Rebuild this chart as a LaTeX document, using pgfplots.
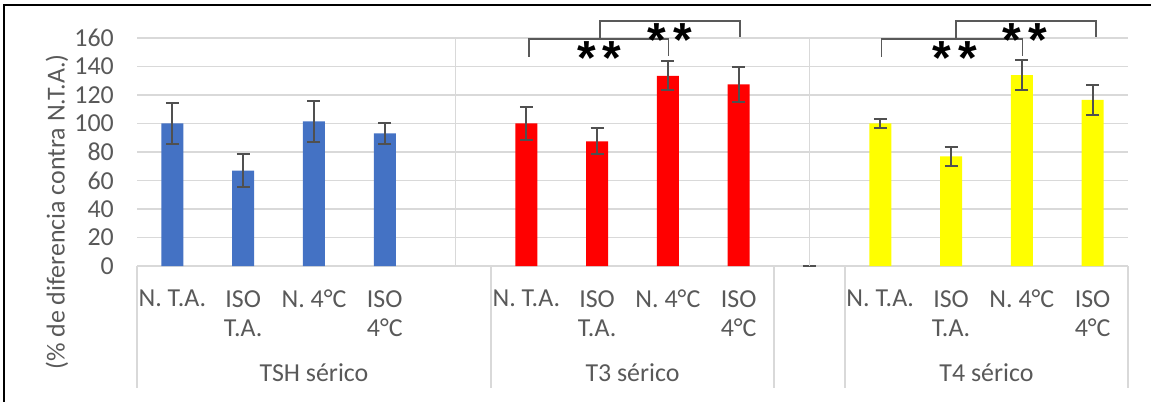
\documentclass[border=0pt]{standalone}
\usepackage{fontspec}
\setmainfont{Carlito}
\newfontfamily\starfont{Liberation Sans}
\usepackage{pgfplots}
\usepackage{pgfplotstable}
\pgfplotsset{compat=1.18}
\definecolor{gridgray}{HTML}{D9D9D9}
\definecolor{labgray}{HTML}{595959}
\definecolor{errgray}{HTML}{505050}
\definecolor{brgray}{HTML}{595959}
\definecolor{barblue}{HTML}{4472C4}
\definecolor{barred}{HTML}{FF0000}
\definecolor{baryellow}{HTML}{FFFF00}
\newcommand\lab{\fontsize{26}{29.3}\selectfont}
\newcommand\stars{\starfont\bfseries\fontsize{48}{48}\selectfont}

\pgfplotstableread{
x y e
0.5 100 14.5
1.5 67 11.5
2.5 101.5 14.5
3.5 93 7.6
}\tsh
\pgfplotstableread{
x y e
5.5 100 11.8
6.5 87.5 9
7.5 133.5 10.3
8.5 127.5 12.2
}\tthree
\pgfplotstableread{
x y e
10.5 100 3
11.5 77 6.6
12.5 134 10.5
13.5 116.5 10.4
}\tfour

\pgfplotsset{
  errb/.style={error bars/.cd, y dir=both, y explicit,
    error bar style={errgray, line width=2bp},
    error mark options={errgray, line width=2bp, rotate=90, mark size=6.5bp}},
  barst/.style={ybar, bar width=22bp, draw=none, fill=#1}
}

\begin{document}
\begin{tikzpicture}
\useasboundingbox (0bp,0bp) rectangle (1151bp,402bp);
\draw[line width=2.2bp] (4bp,0bp) -- (4bp,397bp) -- (1151bp,397bp);
\begin{axis}[at={(137bp,136bp)}, anchor=south west, scale only axis,
  width=991bp, height=228bp,
  xmin=0, xmax=14, ymin=0, ymax=160, clip=false,
  axis x line*=bottom, axis y line*=left,
  x axis line style={draw=gridgray, line width=1.5bp, -},
  y axis line style={draw=none},
  major tick length=0pt,
  ytick={0,20,...,160},
  ymajorgrids, grid style={gridgray, line width=1.5bp},
  xtick={0.5,1.5,2.5,3.5,5.5,6.5,7.5,8.5,10.5,11.5,12.5,13.5},
  xticklabels={N. T.A., {ISO\\T.A.}, N. 4°C, {ISO\\4°C}, N. T.A., {ISO\\T.A.}, N. 4°C, {ISO\\4°C}, N. T.A., {ISO\\T.A.}, N. 4°C, {ISO\\4°C}},
  /pgf/number format/assume math mode=true,
  yticklabel style={font=\lab, text=labgray, inner sep=0pt, xshift=-23bp},
  xticklabel style={font=\lab, text=labgray, align=center, anchor=north, inner sep=0pt, yshift=-24bp},
]
\addplot[barst=barblue, errb] table[x=x, y=y, y error=e]{\tsh};
\addplot[barst=barred, errb] table[x=x, y=y, y error=e]{\tthree};
\addplot[barst=baryellow, errb] table[x=x, y=y, y error=e]{\tfour};
\addplot[draw=none, mark=none, errb] coordinates {(9.5,0) +- (0,0)};

\draw[gridgray, line width=1.5bp] (axis cs:4.5,0) -- (axis cs:4.5,160);
\draw[gridgray, line width=1.5bp] (axis cs:9.5,0) -- (axis cs:9.5,160);
\pgfplotsinvokeforeach{0,5,9,10,14}{
  \draw[gridgray, line width=1.5bp] (axis cs:#1,0) -- ++(0bp,-122bp);
}
\node[font=\lab, text=labgray, anchor=base, yshift=-115bp] at (axis cs:2.5,0) {TSH sérico};
\node[font=\lab, text=labgray, anchor=base, yshift=-115bp] at (axis cs:7,0) {T3 sérico};
\node[font=\lab, text=labgray, anchor=base, yshift=-115bp] at (axis cs:12,0) {T4 sérico};

\draw[brgray, line width=1.5bp] (axis cs:5.54,146.7) |- (axis cs:7.51,159.3) -- (axis cs:7.51,147.5);
\draw[brgray, line width=1.5bp] (axis cs:6.54,159.3) |- (axis cs:8.52,171.9) -- (axis cs:8.52,160.7);
\draw[brgray, line width=1.5bp] (axis cs:10.52,146.7) |- (axis cs:12.51,159.3) -- (axis cs:12.51,147.5);
\draw[brgray, line width=1.5bp] (axis cs:11.57,159.3) |- (axis cs:13.55,171.9) -- (axis cs:13.55,160.7);

\node[font=\stars, anchor=base, inner sep=0pt] at (axis cs:6.53,134.2) {*\hspace{7bp}*};
\node[font=\stars, anchor=base, inner sep=0pt] at (axis cs:7.53,147.0) {*\hspace{7bp}*};
\node[font=\stars, anchor=base, inner sep=0pt] at (axis cs:11.55,134.2) {*\hspace{7bp}*};
\node[font=\stars, anchor=base, inner sep=0pt] at (axis cs:12.54,147.0) {*\hspace{7bp}*};
\end{axis}
\node[rotate=90, font=\lab, text=labgray] at (57bp,190bp) {(\% de diferencia contra N.T.A.)};
\end{tikzpicture}
\end{document}
